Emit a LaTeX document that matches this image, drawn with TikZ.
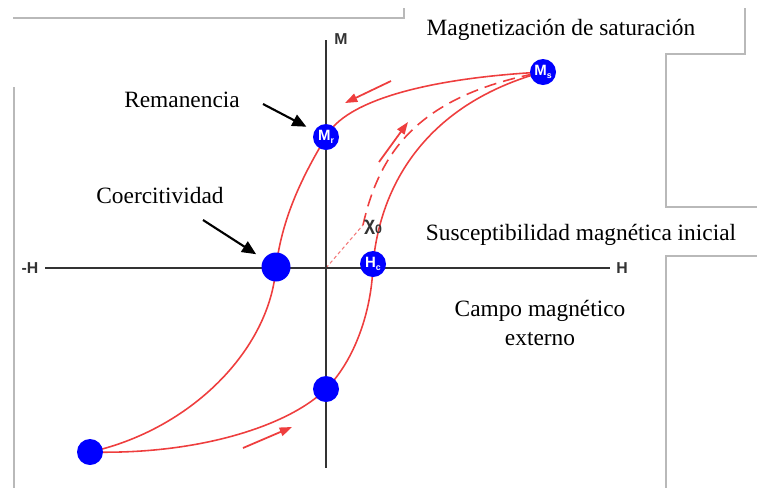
\documentclass[tikz,border=0pt]{standalone}
\usepackage{fontspec}
\setmainfont{Liberation Serif}
\newfontfamily\axfont{Liberation Sans}
\usetikzlibrary{arrows,arrows.meta}
\pgfdeclarelayer{bg}
\pgfsetlayers{bg,main}
\definecolor{loopred}{RGB}{238,62,62}
\definecolor{axgray}{RGB}{51,51,51}
\newcommand{\dotlbl}[2]{{\axfont\bfseries\fontsize{8.5}{9}\selectfont #1\raisebox{-2pt}{\fontsize{5}{5}\selectfont #2}}}
\begin{document}
\begin{tikzpicture}[x=0.02cm,y=-0.02cm,
obj/.style={font=\fontsize{13.3}{16}\selectfont,inner sep=1pt,align=center},
axlabel/.style={font=\axfont\bfseries\fontsize{9}{10}\selectfont,text=axgray,inner sep=0pt},
dot/.style={circle,fill=blue,inner sep=0pt,minimum size=0.52cm,text=white},
axis/.style={line width=1.6pt,draw=axgray},
loop/.style={draw=loopred,line width=0.9pt},
redarrow/.style={-{Triangle[length=7pt,width=5pt]},draw=loopred,fill=loopred,line width=1pt},
arrow/.style={-{Triangle[length=8pt,width=7pt]},line width=1.2pt,shorten >=5pt},
frame/.style={draw=gray!55,line width=0.6pt} ]

\useasboundingbox (0,0) rectangle (757,488);

\draw[frame] (13,18) -- (404,18) -- (404,8);
\draw[frame] (745,8) -- (745,54) -- (666,54) -- (666,207) -- (757,207);
\draw[frame] (757,256) -- (666,256) -- (666,488);
\draw[frame] (14,87) -- (14,488);

\draw[axis] (45,268) -- (610,268);
\draw[axis] (326,40) -- (326,468);

\node[axlabel] (Mlab) at (341,39) {M};
\node[axlabel] (Hlab) at (622,268) {H};
\node[axlabel] (Hneg) at (30,268) {-H};

\coordinate (O) at (326,268);
\coordinate (chi) at (363,225);

\node[dot] (Ms) at (543,72) {\dotlbl{M}{s}};
\node[dot] (Mr) at (326,137) {\dotlbl{M}{r}};
\node[dot,minimum size=0.58cm] (Hcn) at (276,267) {};
\node[dot] (Hc) at (373,264) {\dotlbl{H}{c}};
\node[dot] (Mrn) at (326,389) {};
\node[dot] (Msn) at (90,452) {};

\begin{pgfonlayer}{bg}
\draw[loop] (Ms.center) .. controls (430,78) and (345,100) .. (Mr.center)
  .. controls (300,180) and (282,220) .. (Hcn.center)
  .. controls (270,350) and (190,430) .. (Msn.center);
\draw[loop] (Msn.center) .. controls (200,455) and (290,425) .. (Mrn.center)
  .. controls (355,360) and (372,310) .. (Hc.center)
  .. controls (382,170) and (440,100) .. (Ms.center);
\draw[loop,dash pattern=on 7pt off 4pt] (chi) .. controls (380,150) and (420,95) .. (Ms.center);
\draw[loop,line width=0.6pt,dash pattern=on 2pt off 1.5pt,draw=loopred!70] (O) -- (chi);
\end{pgfonlayer}

\node[font=\axfont\bfseries\fontsize{11}{12}\selectfont,text=axgray,inner sep=0pt] (chilab) at (373,227) {χ\raisebox{-2pt}{\fontsize{7}{7}\selectfont 0}};

\coordinate (a1s) at (391,81);
\coordinate (a1e) at (345,103);
\coordinate (a2s) at (379,162);
\coordinate (a2e) at (408,122);
\coordinate (a3s) at (243,448);
\coordinate (a3e) at (292,427);
\draw[redarrow] (a1s) -- (a1e);
\draw[redarrow] (a2s) -- (a2e);
\draw[redarrow] (a3s) -- (a3e);

\node[obj] (rem) at (182,100) {Remanencia};
\node[obj] (coer) at (160,195) {Coercitividad};
\node[obj] (sat) at (561,30) {Magnetización de saturación};
\node[obj] (sus) at (581,235) {Susceptibilidad magnética inicial};
\node[obj] (campo) at (540,323) {Campo magnético\\externo};

\coordinate (remtail) at (263,104);
\coordinate (coertail) at (203,220);
\draw[arrow] (remtail) -- (Mr);
\draw[arrow] (coertail) -- (Hcn);

\end{tikzpicture}
\end{document}
